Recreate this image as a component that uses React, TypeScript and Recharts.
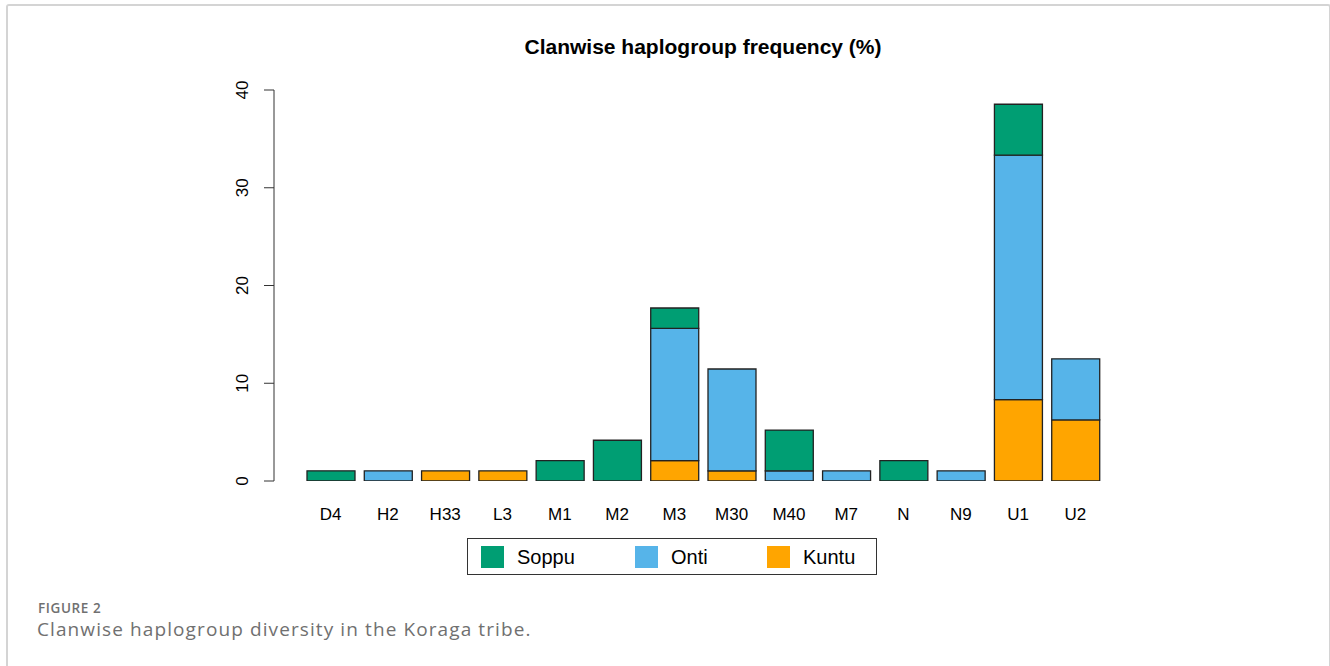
import React from 'react';
import { BarChart, Bar, XAxis, YAxis, Legend } from 'recharts';

const categories = ['D4', 'H2', 'H33', 'L3', 'M1', 'M2', 'M3', 'M30', 'M40', 'M7', 'N', 'N9', 'U1', 'U2'];
const soppu = [1.04, 0, 0, 0, 2.08, 4.17, 2.08, 0, 4.17, 0, 2.08, 0, 5.21, 0];
const onti = [0, 1.04, 0, 0, 0, 0, 13.54, 10.42, 1.04, 1.04, 0, 1.04, 25.0, 6.25];
const kuntu = [0, 0, 1.04, 1.04, 0, 0, 2.08, 1.04, 0, 0, 0, 0, 8.33, 6.25];
const yTicks = [0, 10, 20, 30, 40];

const seriesNames = ['Soppu', 'Onti', 'Kuntu'];
const seriesColors: Record<string, string> = {
  Soppu: '#009E73',
  Onti: '#56B4E9',
  Kuntu: '#FFA500',
};

const data = categories.map((c, i) => ({
  name: c,
  Soppu: soppu[i],
  Onti: onti[i],
  Kuntu: kuntu[i],
}));

const FONT = '"Liberation Sans", Arial, Helvetica, sans-serif';
const CAPTION_FONT = '"Open Sans", "Noto Sans", sans-serif';

const YTick = (props: any) => {
  const { y, payload } = props;
  const bx = 248;
  return (
    <text
      x={bx}
      y={y}
      transform={`rotate(-90, ${bx}, ${y})`}
      textAnchor="middle"
      fontFamily={FONT}
      fontSize={17}
      fill="#000"
    >
      {payload.value}
    </text>
  );
};

const XTick = (props: any) => {
  const { x, payload } = props;
  return (
    <text x={x} y={520} textAnchor="middle" fontFamily={FONT} fontSize={17} fill="#000">
      {payload.value}
    </text>
  );
};

const legendOffsets = [13, 167, 299];

const LegendContent = () => (
  <div
    style={{
      boxSizing: 'border-box',
      width: 410,
      height: 37,
      border: '1px solid #333',
      background: '#fff',
      position: 'relative',
      fontFamily: FONT,
      fontSize: 20,
      color: '#000',
    }}
  >
    {seriesNames.map((n, i) => (
      <div key={n} style={{ position: 'absolute', left: legendOffsets[i], top: 7, display: 'flex', alignItems: 'center' }}>
        <div style={{ width: 23, height: 22, background: seriesColors[n] }} />
        <span style={{ marginLeft: 13, lineHeight: '22px' }}>{n}</span>
      </div>
    ))}
  </div>
);

export default function App() {
  return (
    <div style={{ position: 'absolute', left: 0, top: 0, width: 1330, height: 666, background: '#fff', overflow: 'hidden' }}>
      <div
        style={{
          position: 'absolute',
          left: 6,
          top: 4,
          width: 1321,
          height: 700,
          borderTop: '2px solid #d4d4d4',
          borderLeft: '2px solid #d4d4d4',
          borderRight: '2px solid #d4d4d4',
          borderTopLeftRadius: 3,
          borderTopRightRadius: 3,
        }}
      />
      <div
        style={{
          position: 'absolute',
          left: 0,
          top: 35,
          width: 1406,
          textAlign: 'center',
          fontFamily: FONT,
          fontWeight: 'bold',
          fontSize: 21,
          lineHeight: '24px',
          color: '#000',
        }}
      >
        Clanwise haplogroup frequency (%)
      </div>
      <div style={{ position: 'absolute', left: 0, top: 0 }}>
        <BarChart
          width={1330}
          height={666}
          data={data}
          margin={{ top: 90, right: 226, bottom: 145, left: 214 }}
          barSize={48}
        >
          <XAxis
            dataKey="name"
            axisLine={false}
            tickLine={false}
            height={40}
            padding={{ left: 28, right: 0 }}
            tick={<XTick />}
            interval={0}
          />
          <YAxis
            width={60}
            domain={[0, 40]}
            ticks={yTicks}
            tickSize={10}
            axisLine={{ stroke: '#333', strokeWidth: 1 }}
            tickLine={{ stroke: '#333', strokeWidth: 1 }}
            tick={<YTick />}
            allowDataOverflow
          />
          <Legend
            layout="horizontal"
            verticalAlign="middle"
            align="center"
            wrapperStyle={{ left: 467, top: 538, width: 410, height: 37 }}
            content={<LegendContent />}
          />
          <Bar dataKey="Kuntu" stackId="a" fill={seriesColors.Kuntu} stroke="#222" strokeWidth={1.3} isAnimationActive={false} />
          <Bar dataKey="Onti" stackId="a" fill={seriesColors.Onti} stroke="#222" strokeWidth={1.3} isAnimationActive={false} />
          <Bar dataKey="Soppu" stackId="a" fill={seriesColors.Soppu} stroke="#222" strokeWidth={1.3} isAnimationActive={false} />
        </BarChart>
      </div>
      <div
        style={{
          position: 'absolute',
          left: 38,
          top: 602,
          fontFamily: CAPTION_FONT,
          fontWeight: 600,
          fontSize: 13.5,
          lineHeight: 1,
          color: '#707070',
          letterSpacing: 0.6,
        }}
      >
        FIGURE 2
      </div>
      <div
        style={{
          position: 'absolute',
          left: 37,
          top: 620,
          fontFamily: CAPTION_FONT,
          fontSize: 19,
          lineHeight: 1,
          color: '#707070',
          letterSpacing: 1.1,
        }}
      >
        Clanwise haplogroup diversity in the Koraga tribe.
      </div>
    </div>
  );
}
